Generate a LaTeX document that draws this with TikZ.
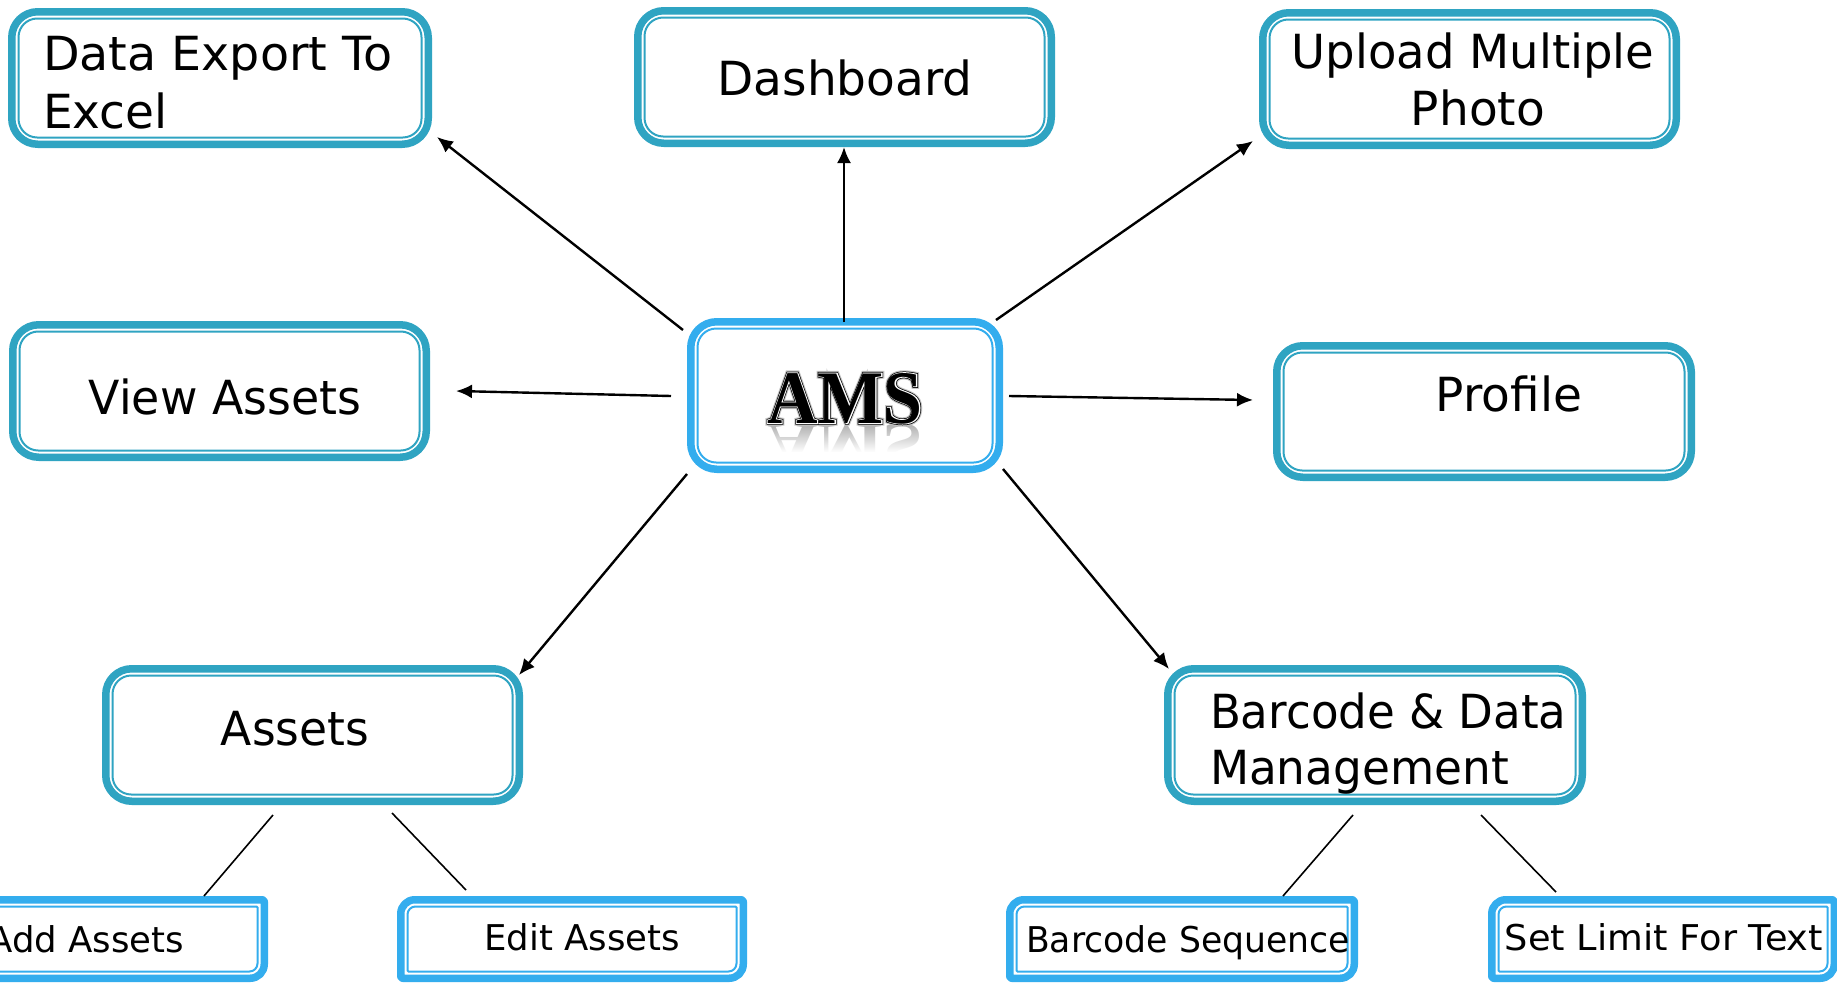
\documentclass[tikz,border=0pt]{standalone}
\usepackage{fontspec}
\setmainfont{DejaVu Sans}
\newfontfamily\amsfont{Liberation Serif Bold}
\newfontfamily\amsglow[FakeBold=7]{Liberation Serif Bold}
\newfontfamily\amsedge[FakeBold=4]{Liberation Serif Bold}
\newfontfamily\amsinline[FakeBold=2]{Liberation Serif Bold}
\usetikzlibrary{arrows.meta,fadings}
\definecolor{teal}{HTML}{2FA4C2}
\definecolor{sky}{HTML}{33ADEE}
\tikzset{
  x=1pt,y=-1pt,
  big/.style={font=\fontsize{47}{56}\selectfont,inner sep=0,outer sep=0},
  small/.style={font=\fontsize{35.5}{42}\selectfont,inner sep=0,outer sep=0},
  arr/.style={line width=2.4pt,-{Latex[length=16pt,width=14pt]}},
  lin/.style={line width=1.6pt},
  outerline/.style={line width=7.5pt,line join=round},
  innerline/.style={line width=2pt},
  amstitle/.style={anchor=base,inner sep=0,yscale=1.08},
}
% \bx{name}{x0}{y0}{x1}{y1}{colour}{radius}: outer edges given
\newcommand{\bx}[7]{%
  \node[inner sep=0,outer sep=0,minimum width={#4-#2},minimum height={#5-#3}] (#1) at ({(#2+#4)/2},{(#3+#5)/2}) {};
  \draw[outerline,draw=#6,rounded corners=#7pt] ({#2+3.75},{#3+3.75}) rectangle ({#4-3.75},{#5-3.75});
  \draw[innerline,draw=#6,rounded corners={#7*0.72pt}] ({#2+10.5},{#3+10.5}) rectangle ({#4-10.5},{#5-10.5});
}
% \sbx: small boxes, top-left and bottom-right corners round, the other two tight
\newcommand{\sbx}[5]{%
  \node[inner sep=0,outer sep=0,minimum width={#4-#2},minimum height={#5-#3}] (#1) at ({(#2+#4)/2},{(#3+#5)/2}) {};
  \draw[outerline,draw=sky,rounded corners=2pt]
    ({#4-3.75},{#3+3.75}) [rounded corners=14pt] -- ({#4-3.75},{#5-3.75})
    [rounded corners=2pt] -- ({#2+3.75},{#5-3.75})
    [rounded corners=14pt] -- ({#2+3.75},{#3+3.75})
    [rounded corners=2pt] -- cycle;
  \draw[innerline,draw=sky,rounded corners=1pt]
    ({#4-10.5},{#3+10.5}) [rounded corners=8pt] -- ({#4-10.5},{#5-10.5})
    [rounded corners=1pt] -- ({#2+10.5},{#5-10.5})
    [rounded corners=8pt] -- ({#2+10.5},{#3+10.5})
    [rounded corners=1pt] -- cycle;
}
\begin{document}
\begin{tikzpicture}
\useasboundingbox (0,0) rectangle (1837,983);
\fill[white] (0,0) rectangle (1837,983);
\clip (0,0) rectangle (1837,983);

% reflection of the AMS title, fading downwards
\node[font=\amsfont\fontsize{70}{80}\selectfont,text=gray!60,anchor=base,inner sep=0,yscale=-0.85] (amsr) at (845,424) {AMS};
\fill[white,path fading=north] (750,425) rectangle (940,452);
\fill[white] (750,452) rectangle (940,490);

\bx{data}{8}{8}{432}{148}{teal}{26}
\bx{dash}{634}{7}{1055}{147}{teal}{26}
\bx{upload}{1259}{9}{1680}{149}{teal}{26}
\bx{view}{9}{321}{430}{461}{teal}{26}
\bx{ams}{687}{318}{1003}{473}{sky}{26}
\bx{profile}{1273}{342}{1695}{481}{teal}{26}
\bx{assets}{102}{665}{523}{805}{teal}{26}
\bx{barcode}{1164}{665}{1586}{805}{teal}{26}
\sbx{add}{-20}{896}{268}{982}
\sbx{edit}{397}{896}{747}{982}
\sbx{seq}{1006}{896}{1358}{982}
\sbx{limit}{1488}{896}{1838}{982}

\node[big,anchor=base west,xscale=1.012] (t1a) at (43,70) {Data Export To};
\node[big,anchor=base west] (t1b) at (43,128) {Excel};
\node[big,anchor=base] (t2) at (845,95) {Dashboard};
\node[big,anchor=base,xscale=.99] (t3a) at (1473,68) {Upload Multiple};
\node[big,anchor=base] (t3b) at (1478,125) {Photo};
\node[big,anchor=base,xscale=.975] (t4) at (225,414) {View Assets};
\node[big,anchor=base] (t5) at (1509,411) {Profile};
\node[big,anchor=base,xscale=.97] (t6) at (295,745) {Assets};
\node[big,anchor=base west,xscale=.96] (t7a) at (1210,728) {Barcode \& Data};
\node[big,anchor=base west,xscale=.965] (t7b) at (1210,784) {Management};
\node[small,anchor=base east] (t8) at (184,952) {Add Assets};
\node[small,anchor=base] (t9) at (582,950) {Edit Assets};
\node[small,anchor=base,xscale=.975] (t10) at (1188,952) {Barcode Sequence};
\node[small,anchor=base,xscale=1.035] (t11) at (1664,950) {Set Limit For Text};

% AMS title: soft halo, black edge, white inline, black face
\node[amstitle,font=\amsglow\fontsize{70}{80}\selectfont,text=gray!45] (amsg) at (845,423) {AMS};
\node[amstitle,font=\amsedge\fontsize{70}{80}\selectfont,text=black] (amse) at (845,423) {AMS};
\node[amstitle,font=\amsinline\fontsize{70}{80}\selectfont,text=white] (amsi) at (845,423) {AMS};
\node[amstitle,font=\amsfont\fontsize{70}{80}\selectfont,text=black] (amst) at (845,423) {AMS};

\coordinate (e1a) at (683,330); \coordinate (e1b) at (437,137);
\coordinate (e2a) at (844,322); \coordinate (e2b) at (844,147);
\coordinate (e3a) at (996,320); \coordinate (e3b) at (1253,141);
\coordinate (e4a) at (671,396); \coordinate (e4b) at (456,391);
\coordinate (e5a) at (1009,396); \coordinate (e5b) at (1253,400);
\coordinate (e6a) at (687,474); \coordinate (e6b) at (519,675);
\coordinate (e7a) at (1003,469); \coordinate (e7b) at (1169,669);
\coordinate (l1a) at (273,815); \coordinate (l1b) at (204,896);
\coordinate (l2a) at (392,813); \coordinate (l2b) at (466,890);
\coordinate (l3a) at (1353,815); \coordinate (l3b) at (1283,896);
\coordinate (l4a) at (1481,815); \coordinate (l4b) at (1556,892);

\draw[arr] (e1a) -- (e1b);
\draw[arr] (e2a) -- (e2b);
\draw[arr] (e3a) -- (e3b);
\draw[arr] (e4a) -- (e4b);
\draw[arr] (e5a) -- (e5b);
\draw[arr] (e6a) -- (e6b);
\draw[arr] (e7a) -- (e7b);
\draw[lin] (l1a) -- (l1b);
\draw[lin] (l2a) -- (l2b);
\draw[lin] (l3a) -- (l3b);
\draw[lin] (l4a) -- (l4b);
\end{tikzpicture}
\end{document}
